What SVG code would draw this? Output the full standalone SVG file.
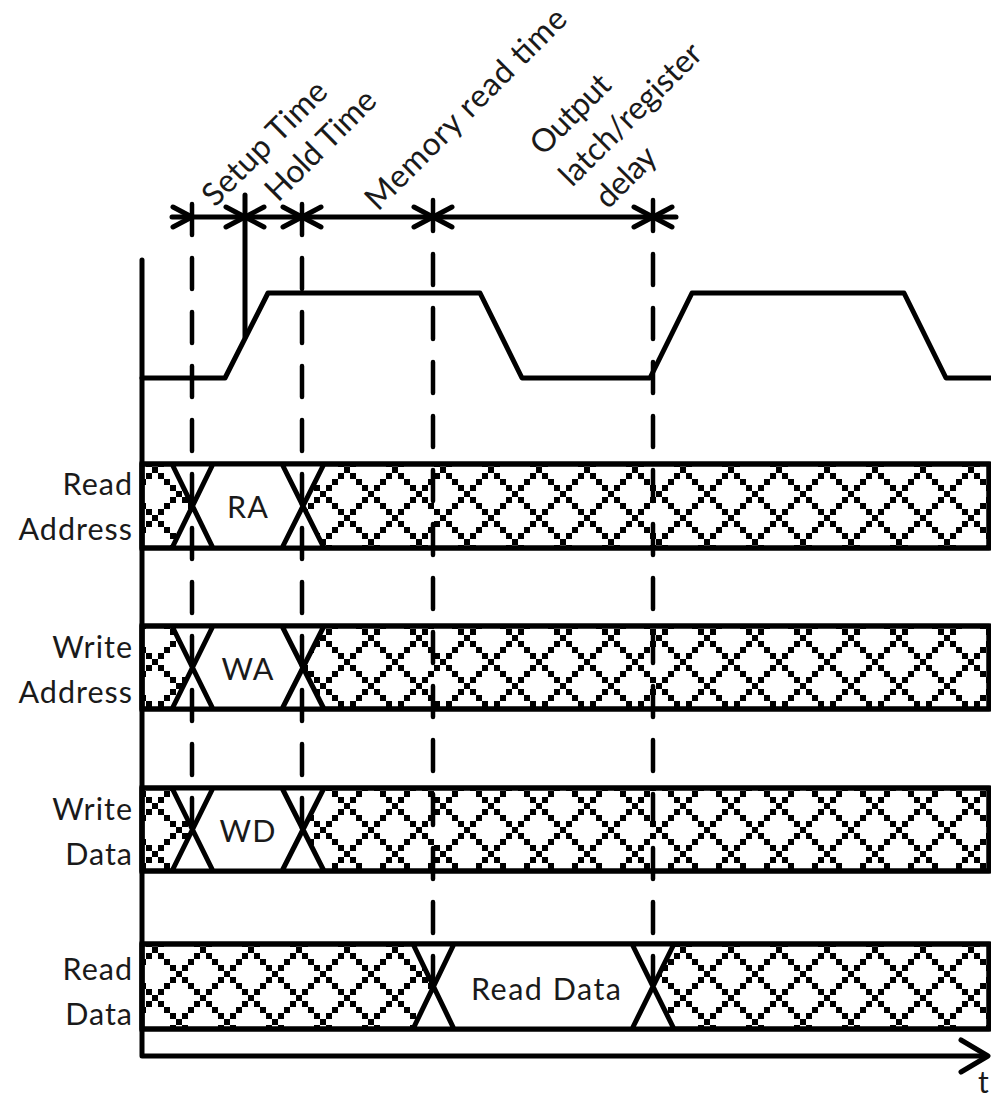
<svg xmlns="http://www.w3.org/2000/svg" width="991" height="1101" viewBox="0 0 991 1101">
<defs>
<style>
text{font-family:Lato,"Open Sans","Liberation Sans",sans-serif;font-size:30.5px;fill:#1a1a1a;letter-spacing:1px}
#labels text{font-size:32px;letter-spacing:0}
.l{stroke:#000;stroke-width:5;fill:none;stroke-linecap:round;stroke-linejoin:round}
.d{stroke:#000;stroke-width:4.5;fill:none;stroke-linecap:round;stroke-dasharray:31 23}
.b{fill:url(#h);stroke:#000;stroke-width:5}
.w{fill:#fff;stroke:none}
.r{text-anchor:end}
.c{text-anchor:middle}
</style>
<pattern id="h" patternUnits="userSpaceOnUse" width="48" height="48" patternTransform="translate(8 35)">
<rect width="48" height="48" fill="#fff"/>
<path d="M0 0h6v6h-6zM6 6h6v6h-6zM12 12h6v6h-6zM18 18h6v6h-6zM24 24h6v6h-6zM30 30h6v6h-6zM36 36h6v6h-6zM42 42h6v6h-6zM42 6h6v6h-6zM36 12h6v6h-6zM30 18h6v6h-6zM18 30h6v6h-6zM12 36h6v6h-6zM6 42h6v6h-6z" fill="#000" shape-rendering="crispEdges"/>
</pattern>
<marker id="a" markerWidth="26" markerHeight="28" refX="23" refY="14" orient="auto-start-reverse" markerUnits="userSpaceOnUse"><path d="M4 4L23 14L4 24" fill="none" stroke="#000" stroke-width="5" stroke-linecap="round"/></marker>
</defs>
<g id="row-read-address">
<rect class="b" x="142" y="464" width="847" height="84"/>
<path class="w" d="M172 464H324L303 506L324 548H172L192 506Z"/>
<path class="l" d="M142 464H989V548H142ZM172 464L213 548M213 464L172 548M282 464L324 548M324 464L282 548"/>
<text class="c" x="248" y="518">RA</text>
<text class="r" x="133" y="495">Read</text>
<text class="r" x="133" y="540">Address</text>
</g>
<g id="row-write-address">
<rect class="b" x="142" y="626" width="847" height="83"/>
<path class="w" d="M172 626H324L303 667L324 709H172L192 667Z"/>
<path class="l" d="M142 626H989V709H142ZM172 626L213 709M213 626L172 709M282 626L324 709M324 626L282 709"/>
<text class="c" x="248" y="680">WA</text>
<text class="r" x="133" y="658">Write</text>
<text class="r" x="133" y="703">Address</text>
</g>
<g id="row-write-data">
<rect class="b" x="142" y="788" width="847" height="83"/>
<path class="w" d="M172 788H324L303 829L324 871H172L192 829Z"/>
<path class="l" d="M142 788H989V871H142ZM172 788L213 871M213 788L172 871M282 788L324 871M324 788L282 871"/>
<text class="c" x="248" y="842">WD</text>
<text class="r" x="133" y="820">Write</text>
<text class="r" x="133" y="865">Data</text>
</g>
<g id="row-read-data">
<rect class="b" x="142" y="944" width="847" height="85"/>
<path class="w" d="M413 944H674L653 986L674 1029H413L433 986Z"/>
<path class="l" d="M142 944H989V1029H142ZM413 944L454 1029M454 944L413 1029M632 944L674 1029M674 944L632 1029"/>
<text x="471" y="1000" textLength="151">Read Data</text>
<text class="r" x="133" y="980">Read</text>
<text class="r" x="133" y="1025">Data</text>
</g>
<g id="connectors">
<path class="d" d="M192 204V830"/>
<path class="d" d="M302 204V830"/>
<path class="d" d="M433 200V985"/>
<path class="d" d="M653 200V985"/>
<path class="l" d="M245 195V337"/>
<path class="l" d="M142 260V1056H986"/>
<path class="l" d="M142 378H225L268 293H480L522 378H650L692 293H904L946 378H991"/>
<path class="l" d="M172 217H192" marker-end="url(#a)"/>
<path class="l" d="M192 217H245" marker-end="url(#a)"/>
<path class="l" d="M245 217H302" marker-start="url(#a)" marker-end="url(#a)"/>
<path class="l" d="M302 217H433" marker-start="url(#a)" marker-end="url(#a)"/>
<path class="l" d="M433 217H653" marker-start="url(#a)" marker-end="url(#a)"/>
<path class="l" d="M653 217H676" marker-start="url(#a)"/>
<path d="M961 1040L988 1056L961 1072" class="l"/>
</g>
<g id="labels">
<text transform="translate(215 208) rotate(-45)" textLength="162">Setup Time</text>
<text transform="translate(278 203) rotate(-45)" textLength="142">Hold Time</text>
<text transform="translate(378 212) rotate(-45)" textLength="270">Memory read time</text>
<text transform="translate(543 157) rotate(-45)" textLength="99">Output</text>
<text transform="translate(572 188) rotate(-45)" textLength="187">latch/register</text>
<text transform="translate(608 210) rotate(-45)" textLength="72">delay</text>
<text x="978" y="1093" style="font-size:30px">t</text>
</g>
</svg>
